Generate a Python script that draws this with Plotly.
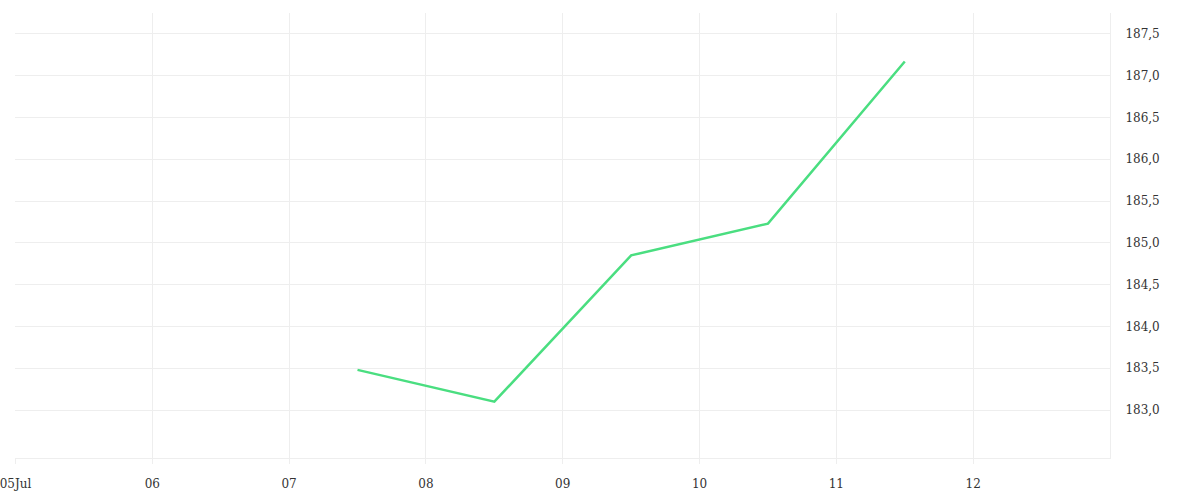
import plotly.graph_objects as go

dates = ["2024-07-07 12:00", "2024-07-08 12:00", "2024-07-09 12:00", "2024-07-10 12:00", "2024-07-11 12:00"]
values = [183.48, 183.10, 184.85, 185.23, 187.17]

tick_vals = ["2024-07-05", "2024-07-06", "2024-07-07", "2024-07-08", "2024-07-09", "2024-07-10", "2024-07-11", "2024-07-12"]
tick_text = ["05Jul", "06", "07", "08", "09", "10", "11", "12"]
y_ticks = [183.0, 183.5, 184.0, 184.5, 185.0, 185.5, 186.0, 186.5, 187.0, 187.5]

grid = "#eeeeee"
fig = go.Figure()
fig.add_trace(go.Scatter(x=dates, y=values, mode="lines",
                         line=dict(color="#4ade80", width=2.5)))
fig.update_layout(
    width=1200, height=500,
    margin=dict(l=15, r=90, t=13, b=42, autoexpand=False),
    paper_bgcolor="white", plot_bgcolor="white",
    separators=",.",
    showlegend=False,
    font=dict(family="DejaVu Serif", size=12, color="#333333"),
)
fig.update_xaxes(type="date", range=["2024-07-04 23:55", "2024-07-13"],
                 tickvals=tick_vals, ticktext=tick_text,
                 showgrid=True, gridcolor=grid, gridwidth=1,
                 showline=True, linecolor=grid, linewidth=1,
                 ticks="outside", ticklen=5, tickcolor=grid,
                 ticklabelstandoff=10, ticklabeloverflow="allow",
                 zeroline=False, automargin=False)
fig.update_yaxes(side="right", range=[182.426, 187.75],
                 tickvals=y_ticks, tickformat=".1f",
                 showgrid=True, gridcolor=grid, gridwidth=1,
                 showline=True, linecolor=grid, linewidth=1,
                 ticks="", ticklabelstandoff=12,
                 zeroline=False, automargin=False)
fig.write_html("out.html", config={"displayModeBar": False},
               post_script="document.body.style.margin='0';document.body.style.overflow='hidden';")
